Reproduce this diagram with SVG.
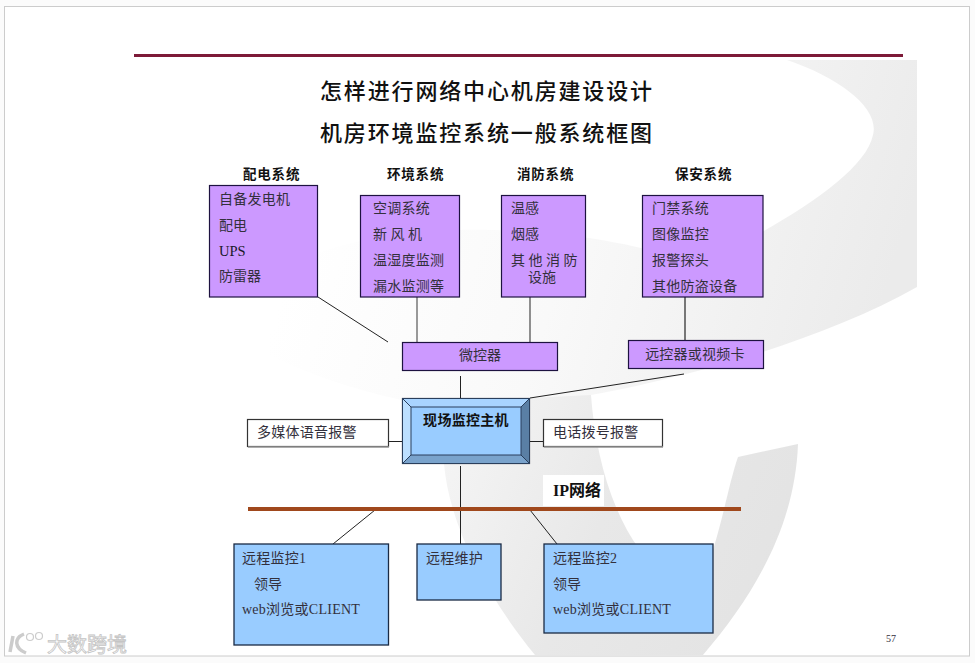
<svg xmlns="http://www.w3.org/2000/svg" width="975" height="663" viewBox="0 0 975 663">
<style>
text{font-family:"Liberation Serif","Noto Sans CJK SC",serif;font-size:14px;fill:#33303c}
.h{font-weight:700;fill:#111;font-family:"Noto Sans CJK SC",sans-serif;font-size:13.5px;letter-spacing:.8px}
.t{font-size:22px;fill:#111;font-weight:500;letter-spacing:1.85px;font-family:"Noto Sans CJK SC",sans-serif}
.m{text-anchor:middle}
.p{fill:#cc99ff;stroke:#1d1240;stroke-width:1.2}
.b{fill:#99ccff;stroke:#1a2a44;stroke-width:1.3}
.w{fill:#fff;stroke:#222;stroke-width:1.2}
.d{stroke:#222;stroke-width:1;fill:none}
.g{stroke:#999;stroke-width:2;fill:none}
.l{letter-spacing:.25px}
</style>
<defs>
<linearGradient id="sw" gradientUnits="userSpaceOnUse" x1="330" y1="140" x2="880" y2="310"><stop offset="0" stop-color="#fff"/><stop offset=".45" stop-color="#f9f9f9"/><stop offset="1" stop-color="#ebebeb"/></linearGradient>
<linearGradient id="cg" gradientUnits="userSpaceOnUse" x1="440" y1="400" x2="800" y2="560"><stop offset="0" stop-color="#f6f6f6"/><stop offset=".5" stop-color="#e8e8e8"/><stop offset="1" stop-color="#e3e3e3"/></linearGradient>
</defs>
<rect width="975" height="663" fill="#fbfbfb"/>
<rect x="4.500" y="6.500" width="965" height="649.500" fill="#fff" stroke="#ccc"/>
<g id="background">
<path fill="url(#sw)" d="M917,60 L787,60 C840,78 880,108 873,135 C865,175 780,225 700,265 C560,215 300,205 210,323 C260,355 330,385 402,400 L445,465 L591,395 C620,390 650,383 690,373 C760,355 850,325 917,287 Z"/>
<path fill="url(#cg)" d="M591,395 C595,450 610,510 640,550 L690,575 L713,550 C725,510 730,480 738,457 L798,444 C795,530 750,600 703,655 L535,655 C490,600 450,530 444,464 L530,398 Z"/>
<rect x="543" y="475" width="61" height="31" fill="#fff"/>
</g>
<rect id="rule" x="134" y="54" width="769" height="3" fill="#7d1a38"/>
<g id="title">
<text class="t" x="320" y="99">怎样进行网络中心机房建设设计</text>
<text class="t" x="320" y="141">机房环境监控系统一般系统框图</text>
</g>
<g id="connectors">
<path class="d" d="M318,297 L388,342"/>
<path class="g" d="M417,297 V342"/>
<path class="d" d="M530,297 V342" style="stroke:#555;stroke-width:1.300"/>
<path class="g" d="M685,297 V340" style="stroke:#777"/>
<path class="d" d="M460.500,376 V398"/>
<path class="d" d="M530,398 L684,374"/>
<path class="d" d="M389,441.500 H402"/>
<path class="d" d="M530,441.500 H543"/>
<path class="d" d="M460.500,466 V544"/>
<path class="d" d="M375,510 L333,544"/>
<path class="d" d="M530,510 L557,544"/>
</g>
<rect id="ip-line" x="248" y="507" width="493" height="4" fill="#a0481c"/>
<g id="power">
<text class="h" x="243" y="179">配电系统</text>
<rect class="p" x="209.500" y="185.500" width="108" height="111.500"/>
<text x="219" y="204" class="l">自备发电机</text>
<text x="219" y="230">配电</text>
<text x="219" y="256" style="fill:#1a1a2a;font-size:14.500px">UPS</text>
<text x="219" y="281">防雷器</text>
</g>
<g id="environment">
<text class="h" x="387" y="179">环境系统</text>
<rect class="p" x="360.500" y="195.500" width="99" height="101.500"/>
<text x="373" y="213" class="l">空调系统</text>
<text x="373" y="239" style="letter-spacing:3.500px">新风机</text>
<text x="373" y="265" class="l">温湿度监测</text>
<text x="373" y="291" class="l">漏水监测等</text>
</g>
<g id="fire">
<text class="h" x="517" y="179">消防系统</text>
<rect class="p" x="501.500" y="195.500" width="84" height="101.500"/>
<text x="511" y="213">温感</text>
<text x="511" y="239">烟感</text>
<text x="511" y="265" style="letter-spacing:3.500px">其他消防</text>
<text class="m" x="542" y="282">设施</text>
</g>
<g id="security">
<text class="h" x="675" y="179">保安系统</text>
<rect class="p" x="642.500" y="195.500" width="120.500" height="101.500"/>
<text x="652" y="213" class="l">门禁系统</text>
<text x="652" y="239" class="l">图像监控</text>
<text x="652" y="265" class="l">报警探头</text>
<text x="652" y="291" class="l">其他防盗设备</text>
</g>
<g id="mcu">
<rect class="p" x="402.500" y="342.500" width="155" height="28"/>
<text class="m" x="480" y="360">微控器</text>
</g>
<g id="remote-card">
<rect class="p" x="628.500" y="340.500" width="135" height="28"/>
<text class="m l" x="695" y="359">远控器或视频卡</text>
</g>
<g id="host">
<rect x="402.500" y="398.500" width="127" height="65" fill="#99ccff" stroke="#223" stroke-width="1.200"/>
<path d="M402.500,398.500 H529.500 L521,407 H411 Z" fill="#a9d4ff" stroke="#2a3f5c"/>
<path d="M402.500,398.500 L411,407 V455 L402.500,463.500 Z" fill="#bcdfff" stroke="#2a3f5c"/>
<path d="M529.500,398.500 L521,407 V455 L529.500,463.500 Z" fill="#5a7fa5" stroke="#2a3f5c"/>
<path d="M402.500,463.500 L411,455 H521 L529.500,463.500 Z" fill="#7aa3cc" stroke="#2a3f5c"/>
<text class="h m" x="466" y="425" style="font-size:14px;letter-spacing:.3px">现场监控主机</text>
</g>
<g id="voice-alarm">
<rect class="w" x="247.500" y="419.500" width="141" height="27" style="stroke:#333"/>
<path d="M248,447 H389" stroke="#999" stroke-width="1.500"/>
<text x="257" y="437" class="l">多媒体语音报警</text>
</g>
<g id="phone-alarm">
<rect class="w" x="543.500" y="419.500" width="119" height="27" style="stroke:#333"/>
<path d="M544,447 H663" stroke="#999" stroke-width="1.500"/>
<text x="553" y="437" class="l">电话拨号报警</text>
</g>
<text id="ip-label" x="553" y="496" style="font-size:16px;font-weight:700;fill:#111">IP网络</text>
<g id="remote1">
<rect class="b" x="234" y="544" width="154.500" height="101"/>
<text x="242" y="563" class="l">远程监控1</text>
<text x="254" y="589">领导</text>
<text x="242" y="614" class="l">web浏览或CLIENT</text>
</g>
<g id="remote-maint">
<rect class="b" x="417" y="544" width="84" height="56"/>
<text x="426" y="563" class="l">远程维护</text>
</g>
<g id="remote2">
<rect class="b" x="544" y="544" width="169" height="89"/>
<text x="553" y="563" class="l">远程监控2</text>
<text x="553" y="589">领导</text>
<text x="553" y="614" class="l">web浏览或CLIENT</text>
</g>
<text id="page" x="886" y="642" style="font-size:10px">57</text>
<g id="watermark" fill="none" stroke="#ccc" stroke-width="1.200">
<path d="M13,636 L10,652 M24,634 C14,638 14,648 26,653" stroke-width="3.500"/>
<circle cx="30" cy="637" r="3.500"/><circle cx="39" cy="636" r="3.500"/>
<text x="47" y="652" style="font-size:20px;fill:#fff;stroke:#c4c4c4;stroke-width:.8px;font-family:'Noto Sans CJK SC',sans-serif">大数跨境</text>
</g>
</svg>
